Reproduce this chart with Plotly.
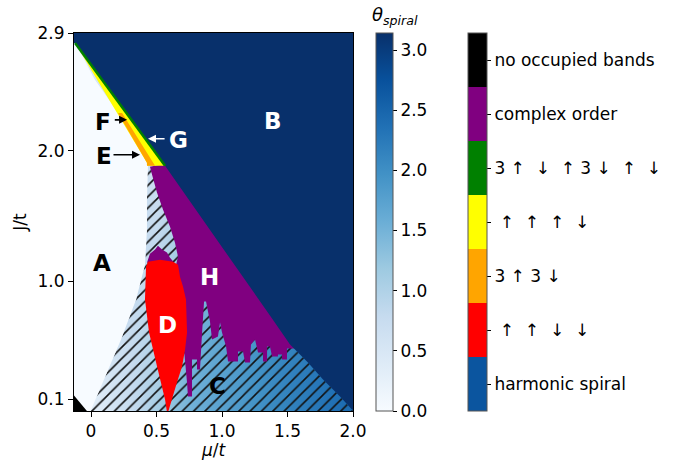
import math
import plotly.graph_objects as go

# ---------------- axis ticks ----------------
x_ticks = [0, 0.5, 1.0, 1.5, 2.0]
x_tick_labels = ["0", "0.5", "1.0", "1.5", "2.0"]
y_ticks = [0.1, 1.0, 2.0, 2.9]
y_tick_labels = ["0.1", "1.0", "2.0", "2.9"]
x_range = [-0.13, 2.0]
y_range = [0.01, 2.9]

# ---------------- spiral angle (coarse grid) ----------------
theta_mu = [-0.13, 0.0, 0.25, 0.5, 0.75, 1.0, 1.25, 1.5, 1.75, 2.0]
theta_J = [0.01, 0.3, 0.6, 1.0, 1.4, 1.9, 2.9]
theta_values = [
    [0.0, 0.30, 0.70, 1.10, 1.50, 1.75, 1.95, 2.15, 2.30, 2.45],
    [0.0, 0.35, 0.70, 1.05, 1.50, 1.75, 1.95, 2.15, 2.30, 2.45],
    [0.0, 0.40, 0.72, 1.00, 1.45, 1.70, 1.90, 2.10, 2.30, 2.45],
    [0.0, 0.45, 0.72, 0.90, 1.35, 1.60, 1.85, 2.05, 2.30, 2.45],
    [0.0, 0.50, 0.70, 0.80, 1.20, 1.50, 1.80, 2.00, 2.30, 2.45],
    [0.0, 0.50, 0.65, 0.70, 1.10, 1.40, 1.70, 2.00, 2.30, 2.45],
    [0.0, 0.50, 0.65, 0.70, 1.10, 1.40, 1.70, 2.00, 2.30, 2.45],
]
theta_ticks = [0.0, 0.5, 1.0, 1.5, 2.0, 2.5, 3.0]
theta_max = math.pi

# ---------------- phase boundaries (mu/t, J/t) ----------------
# A : theta = 0 region
phase_A_mu = [-0.2, -0.122, 0.031, 0.244, 0.427, 0.435, 0.427, 0.427, 0.412, 0.344, 0.229, 0.115, -0.008, -0.2]
phase_A_J = [2.824, 2.824, 2.541, 2.236, 1.908, 1.885, 1.625, 1.396, 1.129, 0.862, 0.556, 0.289, 0.0, 0.0]
# B : theta = pi region
phase_B_mu = [-0.2, 2.1, 2.1, 1.992, 1.901, 1.771, 1.656, 1.519, 1.366, 1.137, 0.832, 0.565, -0.122, -0.2]
phase_B_J = [3.0, 3.0, 0.0, 0.021, 0.121, 0.251, 0.381, 0.518, 0.740, 1.068, 1.503, 1.885, 2.824, 2.824]
# C : hatched intermediate-angle spiral region
phase_C_mu = [0.427, 0.58, 0.832, 1.137, 1.366, 1.519, 1.656, 1.771, 1.901, 2.0, 2.0, -0.008, 0.115, 0.229, 0.344, 0.412, 0.427]
phase_C_J = [1.885, 1.885, 1.503, 1.068, 0.740, 0.518, 0.381, 0.251, 0.121, 0.01, 0.0, 0.0, 0.289, 0.556, 0.862, 1.129, 1.396]
# D : up-up-down-down
phase_D_mu = [0.435, 0.527, 0.626, 0.664, 0.679, 0.702, 0.725, 0.733, 0.718, 0.695, 0.656, 0.618, 0.588,
              0.580, 0.565, 0.504, 0.443, 0.412, 0.420]
phase_D_J = [1.152, 1.167, 1.152, 1.129, 1.037, 0.961, 0.862, 0.610, 0.480, 0.350, 0.228, 0.098, 0.0,
             0.0, 0.098, 0.350, 0.610, 0.862, 1.114]
# H : complex order
phase_H_mu = [0.450, 0.565, 1.290, 1.824, 1.542, 1.496, 1.496, 1.458, 1.458, 1.427, 1.427, 1.382, 1.366,
              1.344, 1.344, 1.313, 1.313, 1.275, 1.252, 1.221, 1.214, 1.176, 1.160, 1.122, 1.122, 1.046,
              1.031, 1.000, 0.985, 0.969, 0.924, 0.908, 0.878, 0.863, 0.847, 0.832, 0.809, 0.809, 0.771,
              0.771, 0.740, 0.733, 0.710, 0.718, 0.710, 0.687, 0.664, 0.649, 0.664, 0.641, 0.603, 0.550,
              0.504, 0.466]
phase_H_J = [1.877, 1.900, 1.931, 0.495, 0.488, 0.488, 0.404, 0.404, 0.442, 0.442, 0.427, 0.427, 0.503,
             0.503, 0.389, 0.389, 0.457, 0.457, 0.556, 0.518, 0.381, 0.381, 0.465, 0.465, 0.389, 0.389,
             0.503, 0.610, 0.686, 0.579, 0.556, 0.694, 0.847, 0.847, 0.595, 0.327, 0.327, 0.404, 0.404,
             0.121, 0.121, 0.228, 0.480, 0.610, 0.862, 0.961, 1.037, 1.129, 1.190, 1.297, 1.419, 1.549,
             1.679, 1.816]
phase_H_cap_mu = [0.427, 0.450, 0.489, 0.511, 0.542, 0.580, 0.603, 0.641]
phase_H_cap_J = [1.144, 1.213, 1.244, 1.274, 1.244, 1.221, 1.182, 1.137]
# E, F, G : narrow strip along the A/B boundary
phase_F_mu = [-0.122, 0.565, 0.427, 0.427]
phase_F_J = [2.824, 1.885, 1.885, 1.908]
phase_E_mu = [0.206, 0.237, 0.489, 0.427, 0.427]
phase_E_J = [2.289, 2.289, 1.885, 1.885, 1.908]
phase_G_mu = [-0.122, 0.565]
phase_G_J = [2.824, 1.885]
# no occupied bands
phase_empty_mu = [-0.2, -0.13, -0.023, -0.2]
phase_empty_J = [0.129, 0.129, 0.0, 0.0]

# ---------------- region labels ----------------
label_text = ["A", "B", "C", "D", "E", "F", "G", "H"]
label_mu = [0.084, 1.389, 0.962, 0.580, 0.099, 0.092, 0.664, 0.901]
label_J = [1.144, 2.228, 0.198, 0.671, 1.961, 2.221, 2.083, 1.037]
label_color = ["black", "white", "black", "white", "black", "black", "white", "white"]

arrow_tail_mu = [0.160, 0.170, 0.573]
arrow_tail_J = [1.969, 2.236, 2.091]
arrow_head_mu = [0.374, 0.275, 0.435]
arrow_head_J = [1.969, 2.236, 2.091]
arrow_color = ["black", "black", "white"]

# ---------------- phase legend ----------------
phase_labels = ["harmonic spiral", " ↑  ↑  ↓  ↓", "3 ↑ 3 ↓", " ↑  ↑  ↑  ↓",
                "3 ↑  ↓  ↑ 3 ↓  ↑  ↓", "complex order", "no occupied bands"]
phase_colors = ["#0b559f", "#ff0000", "#ffa500", "#ffff00", "#008000", "#800080", "#000000"]

blues = ["#f7fbff", "#deebf7", "#c6dbef", "#9ecae1", "#6baed6", "#4292c6", "#2171b5", "#08519c", "#08306b"]
blues_scale = [[i / (len(blues) - 1), c] for i, c in enumerate(blues)]

n = len(phase_colors)
disc_scale = []
for i, c in enumerate(phase_colors):
    disc_scale.append([i / n, c])
    disc_scale.append([(i + 1) / n, c])

FONT = "DejaVu Sans"
fig = go.Figure()

fig.add_trace(go.Heatmap(x=theta_mu, y=theta_J, z=theta_values, coloraxis="coloraxis",
                         zsmooth="best", hoverinfo="skip"))


def poly(mu, J, color):
    fig.add_trace(go.Scatter(x=mu, y=J, mode="lines", fill="toself", fillcolor=color,
                             line=dict(width=0, color=color), hoverinfo="skip", showlegend=False))


# hatched C region
fig.add_trace(go.Scatter(x=phase_C_mu, y=phase_C_J, mode="lines", fill="toself",
                         fillcolor="rgba(0,0,0,0)",
                         fillpattern=dict(shape="/", fgcolor="#111111", fgopacity=1, size=8, solidity=0.2),
                         line=dict(width=0), hoverinfo="skip", showlegend=False))
poly(phase_H_mu, phase_H_J, "#800080")
poly(phase_H_cap_mu, phase_H_cap_J, "#800080")
poly(phase_D_mu, phase_D_J, "#ff0000")
poly(phase_A_mu, phase_A_J, blues[0])
poly(phase_B_mu, phase_B_J, blues[-1])
poly(phase_F_mu, phase_F_J, "#ffff00")
poly(phase_E_mu, phase_E_J, "#ffa500")
fig.add_trace(go.Scatter(x=phase_G_mu, y=phase_G_J, mode="lines",
                         line=dict(width=2.5, color="#008000"), hoverinfo="skip", showlegend=False))
poly(phase_empty_mu, phase_empty_J, "#000000")

# dummy trace for the discrete phase colorbar
fig.add_trace(go.Scatter(x=[None], y=[None], mode="markers",
                         marker=dict(color=[0], coloraxis="coloraxis2"), showlegend=False))

annotations = []
for t, x, y, c in zip(label_text, label_mu, label_J, label_color):
    annotations.append(dict(x=x, y=y, xref="x", yref="y", text="<b>%s</b>" % t, showarrow=False,
                            font=dict(family=FONT, size=23, color=c)))
for tx, ty, hx, hy, c in zip(arrow_tail_mu, arrow_tail_J, arrow_head_mu, arrow_head_J, arrow_color):
    annotations.append(dict(x=hx, y=hy, ax=tx, ay=ty, xref="x", yref="y", axref="x", ayref="y",
                            text="", showarrow=True, arrowhead=2, arrowsize=1, arrowwidth=1.6,
                            arrowcolor=c))
annotations.append(dict(x=1.24, y=1.045, xref="paper", yref="paper", yanchor="middle",
                        text="<i>θ</i><sub><i>spiral</i></sub>", showarrow=False,
                        font=dict(family=FONT, size=18, color="black")))

axis_common = dict(showgrid=False, zeroline=False, showline=True, mirror=True, linecolor="black",
                   linewidth=1, ticks="outside", ticklen=5, tickwidth=1, tickcolor="black",
                   automargin=False,
                   tickfont=dict(family=FONT, size=17, color="black"))

fig.update_layout(
    width=693, height=460,
    margin=dict(l=74, r=340, t=33, b=49, autoexpand=False),
    paper_bgcolor="white", plot_bgcolor="white",
    font=dict(family=FONT, size=17, color="black"),
    xaxis=dict(range=x_range, tickvals=x_ticks, ticktext=x_tick_labels,
               title=dict(text="<i>μ</i>/<i>t</i>", font=dict(family=FONT, size=17), standoff=2),
               **axis_common),
    yaxis=dict(range=y_range, tickvals=y_ticks, ticktext=y_tick_labels,
               title=dict(text="J/t", font=dict(family=FONT, size=17), standoff=6),
               **axis_common),
    coloraxis=dict(colorscale=blues_scale, cmin=0, cmax=theta_max,
                   colorbar=dict(x=1.082, xanchor="left", xpad=0, ypad=0, y=0.5, yanchor="middle",
                                 len=1, lenmode="fraction", thickness=17,
                                 tickvals=theta_ticks, ticktext=["%.1f" % v for v in theta_ticks],
                                 ticks="outside", ticklen=4, tickcolor="black",
                                 tickfont=dict(family=FONT, size=17, color="black"),
                                 outlinewidth=1, outlinecolor="#555")),
    coloraxis2=dict(colorscale=disc_scale, cmin=0, cmax=n,
                    colorbar=dict(x=1.412, xanchor="left", xpad=0, ypad=0, y=0.5, yanchor="middle",
                                  len=1, lenmode="fraction", thickness=19,
                                  tickvals=[i + 0.5 for i in range(n)], ticktext=phase_labels,
                                  ticks="outside", ticklen=4, tickcolor="black",
                                  tickfont=dict(family=FONT, size=17, color="black"),
                                  outlinewidth=1, outlinecolor="#555")),
    annotations=annotations,
)

fig.write_html("out.html")
